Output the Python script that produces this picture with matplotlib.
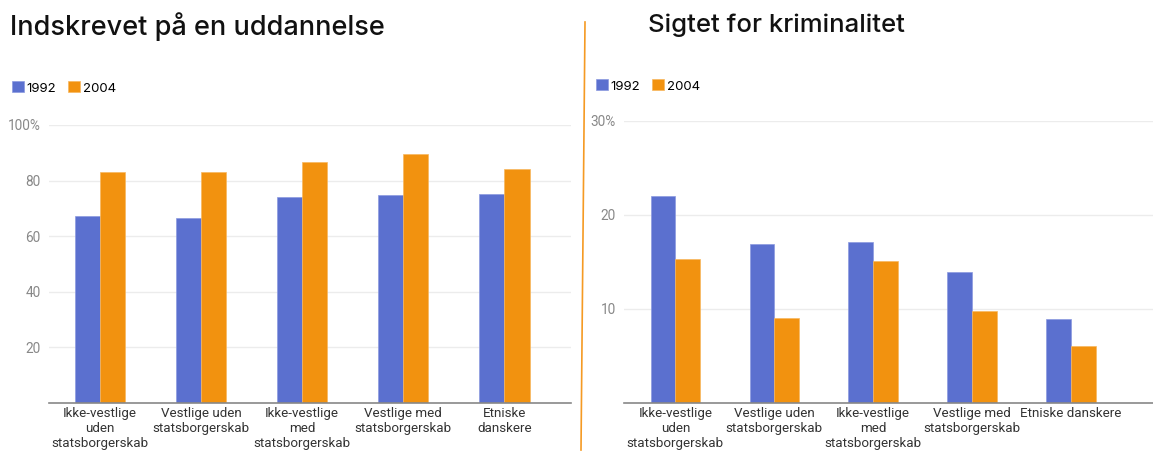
import matplotlib
matplotlib.use("Agg")
import matplotlib.pyplot as plt
import numpy as np
from matplotlib.patches import Patch
from matplotlib.lines import Line2D

plt.rcParams['font.family'] = ['Roboto', 'DejaVu Sans']

# data
categories_left = ["Ikke-vestlige\nuden\nstatsborgerskab", "Vestlige uden\nstatsborgerskab",
                   "Ikke-vestlige\nmed\nstatsborgerskab", "Vestlige med\nstatsborgerskab",
                   "Etniske\ndanskere"]
categories_right = ["Ikke-vestlige\nuden\nstatsborgerskab", "Vestlige uden\nstatsborgerskab",
                    "Ikke-vestlige\nmed\nstatsborgerskab", "Vestlige med\nstatsborgerskab",
                    "Etniske danskere"]
years = ["1992", "2004"]
uddannelse_1992 = [67.3, 66.5, 74.0, 74.9, 75.0]
uddannelse_2004 = [83.1, 83.1, 86.6, 89.6, 84.0]
kriminalitet_1992 = [22.0, 16.9, 17.1, 13.9, 8.9]
kriminalitet_2004 = [15.3, 9.0, 15.1, 9.75, 6.05]
left_ticks = [20, 40, 60, 80, 100]
left_ticklabels = ["20", "40", "60", "80", "100%"]
right_ticks = [10, 20, 30]
right_ticklabels = ["10", "20", "30%"]

BLUE = '#5b70cf'
ORANGE = '#f2920f'
W, H = 1153, 454

fig = plt.figure(figsize=(W / 100, H / 100), dpi=100)


def px_axes(x0, x1, y_top, y_bot):
    return fig.add_axes([x0 / W, 1 - y_bot / H, (x1 - x0) / W, (y_bot - y_top) / H])


def draw_bars(ax, cats, v1, v2, ymax, ticks, ticklabels, xlim):
    x = np.arange(len(cats))
    w = 0.25
    ax.bar(x - w / 2, v1, w, color=BLUE, edgecolor='#8c9ae0', linewidth=0.5, zorder=3)
    ax.bar(x + w / 2, v2, w, color=ORANGE, edgecolor='#f7b860', linewidth=0.5, zorder=3)
    ax.set_ylim(0, ymax)
    ax.set_xlim(*xlim)
    ax.set_yticks(ticks)
    ax.set_yticklabels(ticklabels)
    ax.set_xticks(x)
    ax.set_xticklabels(cats, linespacing=1.2)
    ax.grid(axis='y', color='#ececec', linewidth=1, zorder=0)
    for s in ['top', 'right', 'left']:
        ax.spines[s].set_visible(False)
    ax.spines['bottom'].set_color('#888888')
    ax.spines['bottom'].set_linewidth(1.2)
    ax.spines['bottom'].set_zorder(4)
    ax.tick_params(axis='x', length=0, pad=3, labelsize=9.6, labelcolor='#333333')
    ax.tick_params(axis='y', length=0, pad=6, labelsize=9.8, labelcolor='#888888')


ax1 = px_axes(49, 571, 125, 403)
draw_bars(ax1, categories_left, uddannelse_1992, uddannelse_2004, 100,
          left_ticks, left_ticklabels, (-0.505, 4.66))

ax2 = px_axes(624, 1153, 121, 403)
draw_bars(ax2, categories_right, kriminalitet_1992, kriminalitet_2004, 30,
          right_ticks, right_ticklabels, (-0.52, 4.83))

fig.text(10 / W, 1 - 27 / H, "Indskrevet på en uddannelse", fontsize=19.5,
         family=['Inter', 'DejaVu Sans'], fontweight='medium', color='#111111',
         va='center', ha='left')
fig.text(648 / W, 1 - 25 / H, "Sigtet for kriminalitet", fontsize=18.5,
         family=['Inter', 'DejaVu Sans'], fontweight='medium', color='#111111',
         va='center', ha='left')

handles = [Patch(facecolor=BLUE, edgecolor='#8c9ae0', linewidth=0.5),
           Patch(facecolor=ORANGE, edgecolor='#f7b860', linewidth=0.5)]
for lx, ly in [(12, 88), (596, 86)]:
    fig.legend(handles, years, loc='center left', bbox_to_anchor=(lx / W, 1 - ly / H),
               ncol=2, frameon=False, handlelength=0.9, handleheight=0.9,
               handletextpad=0.2, columnspacing=0.9, borderaxespad=0, borderpad=0,
               prop={'family': ['Inter', 'DejaVu Sans'], 'size': 9.5})

fig.add_artist(Line2D([585 / W, 581 / W], [1 - 22 / H, 1 - 450 / H],
                      color='#f59a23', linewidth=1.2))

fig.savefig("out.png", dpi=100)
